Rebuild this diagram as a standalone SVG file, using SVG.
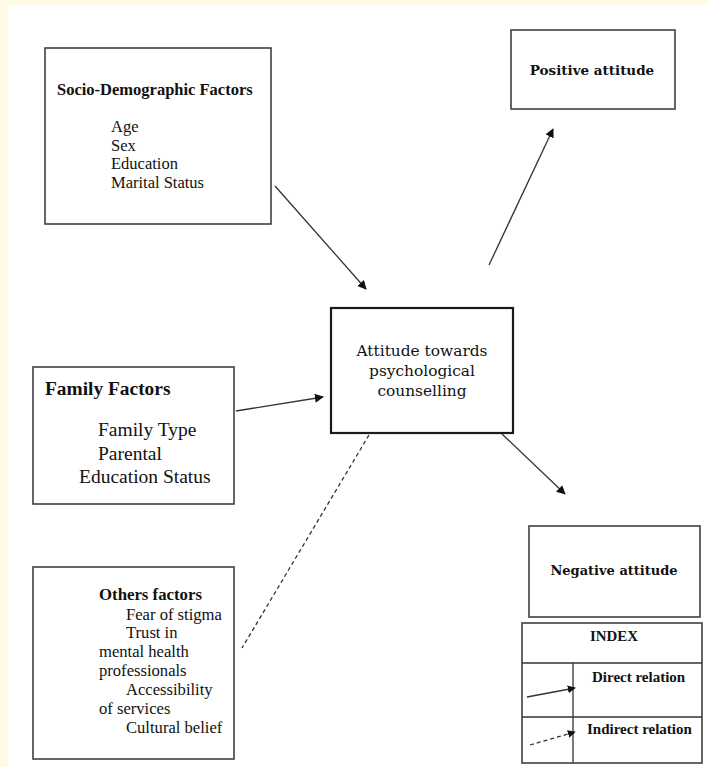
<svg xmlns="http://www.w3.org/2000/svg" width="708" height="767" viewBox="0 0 708 767">
<defs>
<style>
.box{fill:#fff;stroke:#404040;stroke-width:1.6}
.main{fill:#fff;stroke:#1a1a1a;stroke-width:2.2}
.t{font-family:"Liberation Serif","Times New Roman",serif;fill:#111}
.c{font-family:"DejaVu Serif","Liberation Serif",serif;fill:#111}
.b{font-weight:bold}
.ln{stroke:#333;stroke-width:1.3;fill:none}
.dash{stroke-dasharray:4 3}
</style>
<marker id="ah" viewBox="0 0 10 10" refX="9" refY="5" markerWidth="9" markerHeight="9" markerUnits="userSpaceOnUse" orient="auto">
<path d="M0,0 L10,5 L0,10 z" fill="#111"/>
</marker>
<marker id="ahs" viewBox="0 0 10 10" refX="9" refY="5" markerWidth="8" markerHeight="8" markerUnits="userSpaceOnUse" orient="auto">
<path d="M0,0 L10,5 L0,10 z" fill="#111"/>
</marker>
</defs>
<rect x="0" y="0" width="708" height="767" fill="#fffae6"/>
<rect x="8" y="5" width="700" height="762" fill="#fff"/>

<g id="socio">
<rect class="box" x="45" y="48" width="226" height="176"/>
<text class="t b" x="57" y="95" font-size="16.5">Socio-Demographic Factors</text>
<text class="t" font-size="16.5" x="111" y="132">Age</text>
<text class="t" font-size="16.5" x="111" y="151">Sex</text>
<text class="t" font-size="16.5" x="111" y="169">Education</text>
<text class="t" font-size="16.5" x="111" y="188">Marital Status</text>
</g>

<g id="positive">
<rect class="box" x="511" y="30" width="164" height="79"/>
<text class="c b" x="592" y="75" font-size="13.5" text-anchor="middle">Positive attitude</text>
</g>

<g id="central">
<rect class="main" x="331" y="308" width="182" height="125"/>
<text class="c" x="422" y="356" font-size="15.4" text-anchor="middle">Attitude towards</text>
<text class="c" x="422" y="376" font-size="15.4" text-anchor="middle">psychological</text>
<text class="c" x="422" y="396" font-size="15.4" text-anchor="middle">counselling</text>
</g>

<g id="family">
<rect class="box" x="33" y="367" width="201" height="137"/>
<text class="t b" x="45" y="395" font-size="19.4">Family Factors</text>
<text class="t" font-size="19.5" x="98" y="436">Family Type</text>
<text class="t" font-size="19.5" x="98" y="460">Parental</text>
<text class="t" font-size="19.5" x="79" y="483">Education Status</text>
</g>

<g id="others">
<rect class="box" x="33" y="567" width="201" height="192"/>
<text class="t b" x="99" y="600" font-size="16.8">Others factors</text>
<text class="t" font-size="16.6" x="126" y="620">Fear of stigma</text>
<text class="t" font-size="16.6" x="126" y="638">Trust in</text>
<text class="t" font-size="16.6" x="99" y="657">mental health</text>
<text class="t" font-size="16.6" x="99" y="676">professionals</text>
<text class="t" font-size="16.6" x="126" y="695">Accessibility</text>
<text class="t" font-size="16.6" x="99" y="714">of services</text>
<text class="t" font-size="16.6" x="126" y="733">Cultural belief</text>
</g>

<g id="negative">
<rect class="box" x="529" y="526" width="171" height="91"/>
<text class="c b" x="614" y="575" font-size="13" text-anchor="middle">Negative attitude</text>
</g>

<g id="index">
<rect class="box" x="522" y="623" width="180" height="140"/>
<line class="ln" x1="522" y1="663" x2="702" y2="663" stroke-width="1.4"/>
<line class="ln" x1="522" y1="717" x2="702" y2="717" stroke-width="1.4"/>
<line class="ln" x1="573" y1="663" x2="573" y2="763" stroke-width="1.4"/>
<text class="t b" x="590" y="641" font-size="14.9">INDEX</text>
<text class="t b" x="592" y="682" font-size="15">Direct relation</text>
<text class="t b" x="587" y="734" font-size="15">Indirect relation</text>
<line class="ln" x1="527" y1="697" x2="575" y2="688" marker-end="url(#ahs)"/>
<line class="ln dash" x1="530" y1="745" x2="575" y2="732" marker-end="url(#ahs)"/>
</g>

<g id="connectors">
<line class="ln" x1="275" y1="186" x2="366" y2="289" marker-end="url(#ah)"/>
<line class="ln" x1="489" y1="265" x2="553" y2="129" marker-end="url(#ah)"/>
<line class="ln" x1="236" y1="411" x2="323" y2="397" marker-end="url(#ah)"/>
<line class="ln" x1="502" y1="434" x2="565" y2="494" marker-end="url(#ah)"/>
<line class="ln dash" x1="369" y1="435" x2="242" y2="648"/>
</g>
</svg>
